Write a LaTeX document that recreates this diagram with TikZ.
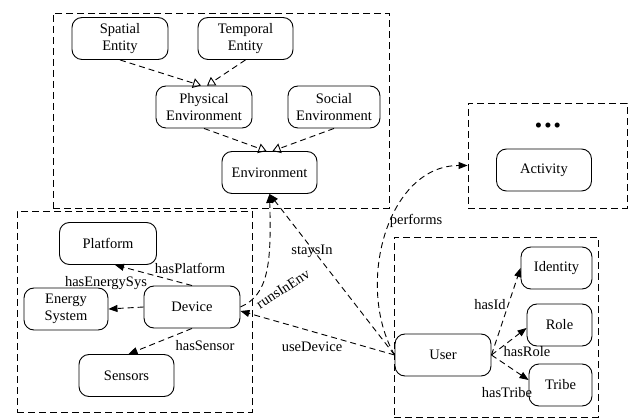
\documentclass[tikz,border=0pt]{standalone}
\usepackage{fontspec}
\setmainfont{Liberation Serif}
\usetikzlibrary{arrows.meta}

\tikzset{
    cls/.style={draw, rounded corners=10pt, align=center, minimum height=42pt,
        inner sep=2pt, font=\fontsize{14.5}{17}\selectfont},
    grp/.style={draw, dash pattern=on 7pt off 4pt, inner sep=0pt},
    rel/.style={-{Triangle[length=9pt,width=7pt]}, dash pattern=on 6pt off 4pt},
    isa/.style={-{Triangle[open,length=8pt,width=10pt]}, dash pattern=on 6pt off 4pt},
    lbl/.style={inner sep=1pt, font=\fontsize{14.5}{17}\selectfont}
}

\begin{document}
\begin{tikzpicture}[x=1pt, y=-1pt, line width=0.9pt]
    \useasboundingbox (0,0) rectangle (631,419);

    % groups
    \node[grp, minimum width=336pt, minimum height=195pt] (envGrp) at (221,110.5) {};
    \node[grp, minimum width=235pt, minimum height=201pt] (devGrp) at (134.5,311.5) {};
    \node[grp, minimum width=204pt, minimum height=180pt] (userGrp) at (496,327) {};
    \node[grp, minimum width=159pt, minimum height=105pt] (actGrp) at (547.5,155.5) {};

    % environment
    \node[cls, minimum width=96pt] (spatial) at (120,38.5) {Spatial\\Entity};
    \node[cls, minimum width=95pt] (temporal) at (245.5,38.5) {Temporal\\Entity};
    \node[cls, minimum width=96pt] (phys) at (204,107) {Physical\\Environment};
    \node[cls, minimum width=92pt] (social) at (334,107) {Social\\Environment};
    \node[cls, minimum width=95pt] (env) at (269.5,172.5) {Environment};

    % activity
    \node[inner sep=0pt, font=\fontsize{21}{21}\selectfont] (dots) at (548,128)
        {\textbullet\hspace{2pt}\textbullet\hspace{2pt}\textbullet};
    \node[cls, minimum width=95pt] (act) at (544,170) {Activity};

    % device
    \node[cls, minimum width=97pt] (plat) at (108,243.5) {Platform};
    \node[cls, minimum width=84pt] (energy) at (66,309) {Energy\\System};
    \node[cls, minimum width=96pt] (dev) at (192,307) {Device};
    \node[cls, minimum width=95pt] (sens) at (126.5,375.5) {Sensors};

    % user
    \node[cls, minimum width=96pt] (user) at (443,355) {User};
    \node[cls, minimum width=71pt] (ident) at (556.5,268) {Identity};
    \node[cls, minimum width=65pt] (role) at (559.5,325) {Role};
    \node[cls, minimum width=63pt] (tribe) at (560.5,385) {Tribe};

    % inheritance
    \draw[isa] (spatial.south) -- ([xshift=-3pt]phys.north);
    \draw[isa] (temporal.south) -- ([xshift=3pt]phys.north);
    \draw[isa] (phys.south) -- ([xshift=-3pt]env.north);
    \draw[isa] (social.south) -- ([xshift=3pt]env.north);

    % relations
    \draw[rel] (dev.north) -- ([xshift=7pt]plat.south);
    \draw[rel] (dev.west) -- (energy.east);
    \draw[rel] (dev.south) -- ([xshift=2pt]sens.north);
    \draw[rel] (dev.east) .. controls +(28,-12) and +(2,70) .. (env.south);
    \draw[rel] (user.west) -- (env.south);
    \draw[rel] (user.west) -- ([yshift=-4pt]dev.east);
    \draw[rel] (user.west) .. controls +(-40,-70) and +(-80,0) .. ([yshift=-10pt]actGrp.west);
    \draw[rel] (user.east) -- (ident.west);
    \draw[rel] (user.east) -- ([yshift=-3pt]role.west);
    \draw[rel] (user.east) -- ([yshift=5pt]tribe.west);

    % labels
    \node[lbl] (lPlat) at (190,268) {hasPlatform};
    \node[lbl] (lEnergy) at (106,283) {hasEnergySys};
    \node[lbl] (lSens) at (205,346) {hasSensor};
    \node[lbl] (lStays) at (312,251) {staysIn};
    \node[lbl, rotate=33] (lRuns) at (283,289) {runsInEnv};
    \node[lbl] (lUse) at (312,347) {useDevice};
    \node[lbl] (lPerf) at (416,221) {performs};
    \node[lbl] (lId) at (490,305) {hasId};
    \node[lbl] (lRole) at (527,352) {hasRole};
    \node[lbl] (lTribe) at (507,393) {hasTribe};
\end{tikzpicture}
\end{document}
